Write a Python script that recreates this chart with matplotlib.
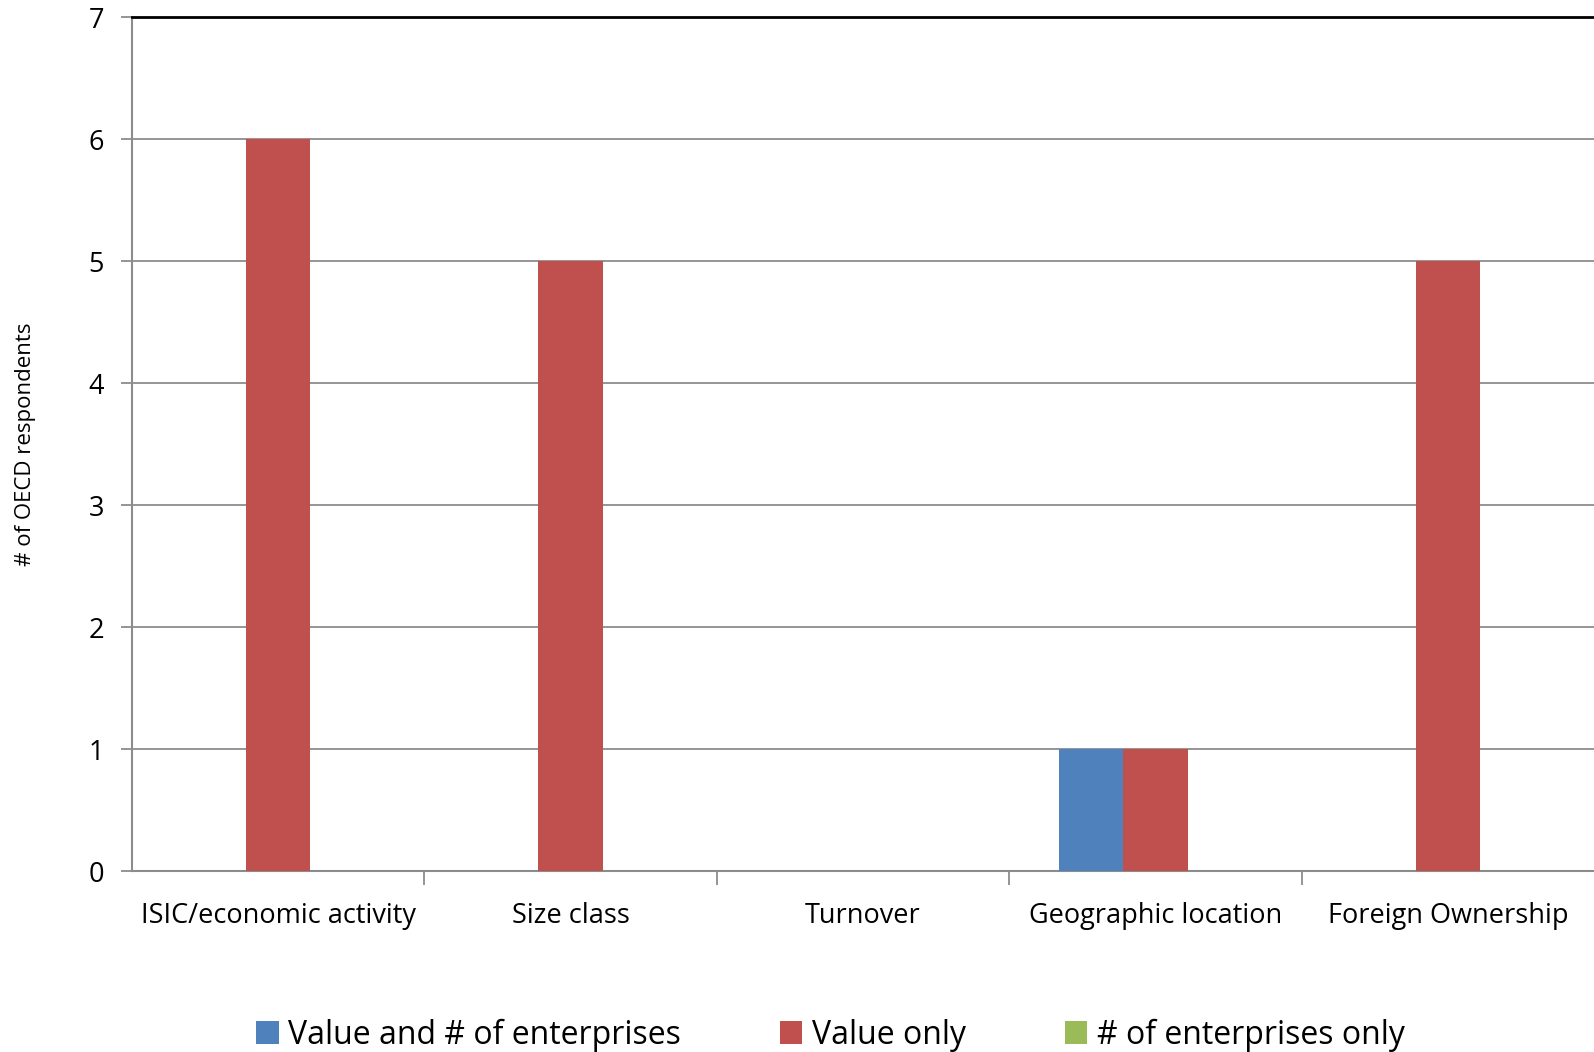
import matplotlib
matplotlib.use("Agg")
import matplotlib.pyplot as plt
import numpy as np
from matplotlib.patches import Patch

categories = ["ISIC/economic activity", "Size class", "Turnover", "Geographic location", "Foreign Ownership"]
series_names = ["Value and # of enterprises", "Value only", "# of enterprises only"]
value_and_num = [0, 0, 0, 1, 0]
value_only = [6, 5, 0, 1, 5]
num_only = [0, 0, 0, 0, 0]
colors = ["#4F81BD", "#C0504D", "#9BBB59"]

plt.rcParams['font.family'] = ['Open Sans', 'DejaVu Sans']

fig = plt.figure(figsize=(15.94, 10.52), dpi=100)
ax = fig.add_axes([132/1594, 1 - 871/1052, 1 - 132/1594, (871 - 17)/1052])

x = np.arange(len(categories))
w = 0.22
for i, (vals, c) in enumerate(zip([value_and_num, value_only, num_only], colors)):
    ax.bar(x + (i - 1) * w, vals, width=w, color=c, zorder=3)

ax.set_xlim(-0.5, len(categories) - 0.5)
ax.set_ylim(0, 7)
ax.set_yticks(range(0, 8))
ax.yaxis.grid(True, color="#8c8c8c", linewidth=1.3, zorder=0)
ax.set_axisbelow(True)

ax.set_xticks(x)
ax.set_xticklabels(categories, fontsize=19.5)
ax.set_xticks(np.arange(0.5, len(categories) - 1, 1.0), minor=True)
ax.tick_params(axis='x', which='major', length=0, pad=22)
ax.tick_params(axis='x', which='minor', length=10, color="#8c8c8c", width=1.3)
ax.tick_params(axis='y', length=8, color="#8c8c8c", width=1.3, labelsize=19.5, pad=12)

ax.spines["right"].set_visible(False)
ax.spines["left"].set_color("#8c8c8c")
ax.spines["left"].set_linewidth(1.5)
ax.spines["bottom"].set_color("#8c8c8c")
ax.spines["bottom"].set_linewidth(1.5)
ax.spines["top"].set_color("black")
ax.spines["top"].set_linewidth(2)

ax.set_ylabel("# of OECD respondents", fontsize=16, labelpad=38)

handles = [Patch(facecolor=c) for c in colors]
fig.legend(handles, series_names, loc="center", bbox_to_anchor=(0.521, 0.016),
           ncol=3, frameon=False, fontsize=23, handlelength=0.7, handleheight=0.7,
           columnspacing=3.1, handletextpad=0.3)

fig.savefig("out.png", dpi=100, facecolor="white")
